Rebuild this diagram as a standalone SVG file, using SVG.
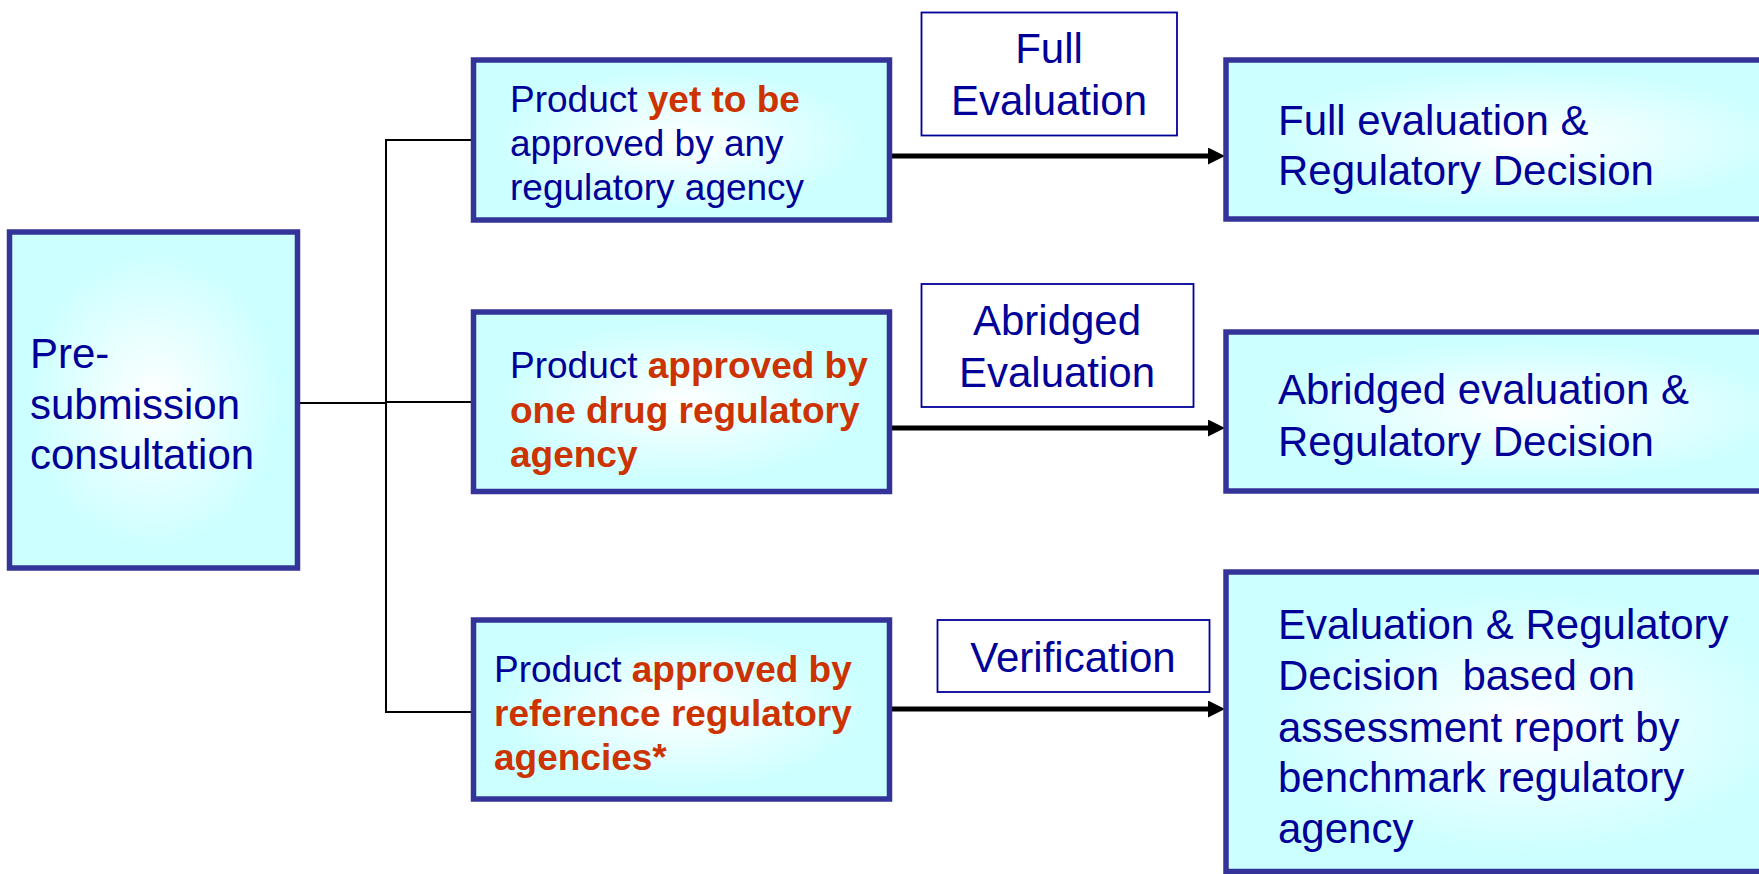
<svg xmlns="http://www.w3.org/2000/svg" width="1759" height="874" viewBox="0 0 1759 874">
<defs>
<radialGradient id="fillG" cx="0.5" cy="0.5" r="0.6">
<stop offset="0" stop-color="#FFFFFF"/>
<stop offset="0.75" stop-color="#CCFFFF"/>
<stop offset="1" stop-color="#CCFFFF"/>
</radialGradient>
<marker id="ah" markerUnits="userSpaceOnUse" markerWidth="18" markerHeight="18" refX="0" refY="8.5" orient="auto">
<path d="M0,0 L17,8.5 L0,17 z" fill="#000"/>
</marker>
<style>
.box{fill:url(#fillG);stroke:#333399;stroke-width:5.5}
.lbl{fill:#FFFFFF;stroke:#000099;stroke-width:1.8}
.t{font-family:"Liberation Sans",Arial,sans-serif;fill:#000099}
.r{font-weight:bold;fill:#CC3300}
.m{font-size:37px}
.b{font-size:42px}
.c{text-anchor:middle}
.thin{stroke:#000;stroke-width:2;fill:none}
.thick{stroke:#000;stroke-width:5;fill:none}
</style>
</defs>
<g id="connectors">
<line class="thin" x1="300" y1="403" x2="386" y2="403"/>
<line class="thin" x1="386" y1="140" x2="386" y2="712"/>
<line class="thin" x1="385" y1="140" x2="472" y2="140"/>
<line class="thin" x1="386" y1="402" x2="472" y2="402"/>
<line class="thin" x1="385" y1="712" x2="472" y2="712"/>
<line class="thick" x1="890" y1="156" x2="1208" y2="156" marker-end="url(#ah)"/>
<line class="thick" x1="890" y1="428" x2="1208" y2="428" marker-end="url(#ah)"/>
<line class="thick" x1="890" y1="709" x2="1208" y2="709" marker-end="url(#ah)"/>
</g>
<g id="pre">
<rect class="box" x="9.5" y="232" width="288" height="336"/>
<text class="t b" x="30" y="368">Pre-</text>
<text class="t b" x="30" y="419">submission</text>
<text class="t b" x="30" y="469">consultation</text>
</g>
<g id="mid1">
<rect class="box" x="473.5" y="60" width="416" height="160"/>
<text class="t m" x="510" y="112">Product <tspan class="r">yet to be</tspan></text>
<text class="t m" x="510" y="156">approved by any</text>
<text class="t m" x="510" y="200">regulatory agency</text>
</g>
<g id="mid2">
<rect class="box" x="473.5" y="312" width="416" height="179.5"/>
<text class="t m" x="510" y="378">Product <tspan class="r">approved by</tspan></text>
<text class="t m r" x="510" y="423">one drug regulatory</text>
<text class="t m r" x="510" y="467">agency</text>
</g>
<g id="mid3">
<rect class="box" x="473.5" y="620" width="416" height="179"/>
<text class="t m" x="494" y="682">Product <tspan class="r">approved by</tspan></text>
<text class="t m r" x="494" y="726">reference regulatory</text>
<text class="t m r" x="494" y="770">agencies*</text>
</g>
<g id="lbl1">
<rect class="lbl" x="921.5" y="12.5" width="255.5" height="123"/>
<text class="t b c" x="1049" y="63">Full</text>
<text class="t b c" x="1049" y="115">Evaluation</text>
</g>
<g id="lbl2">
<rect class="lbl" x="921.5" y="284" width="272" height="123"/>
<text class="t b c" x="1057" y="335">Abridged</text>
<text class="t b c" x="1057" y="387">Evaluation</text>
</g>
<g id="lbl3">
<rect class="lbl" x="937.5" y="620" width="272" height="72"/>
<text class="t b c" x="1073" y="672">Verification</text>
</g>
<g id="out1">
<rect class="box" x="1226" y="60" width="600" height="159"/>
<text class="t b" x="1278" y="135">Full evaluation &amp;</text>
<text class="t b" x="1278" y="185">Regulatory Decision</text>
</g>
<g id="out2">
<rect class="box" x="1226" y="332" width="600" height="159"/>
<text class="t b" x="1278" y="404">Abridged evaluation &amp;</text>
<text class="t b" x="1278" y="456">Regulatory Decision</text>
</g>
<g id="out3">
<rect class="box" x="1226" y="572" width="600" height="299.5"/>
<text class="t b" x="1278" y="639">Evaluation &amp; Regulatory</text>
<text class="t b" x="1278" y="690" xml:space="preserve">Decision  based on</text>
<text class="t b" x="1278" y="742">assessment report by</text>
<text class="t b" x="1278" y="792">benchmark regulatory</text>
<text class="t b" x="1278" y="843">agency</text>
</g>
</svg>
